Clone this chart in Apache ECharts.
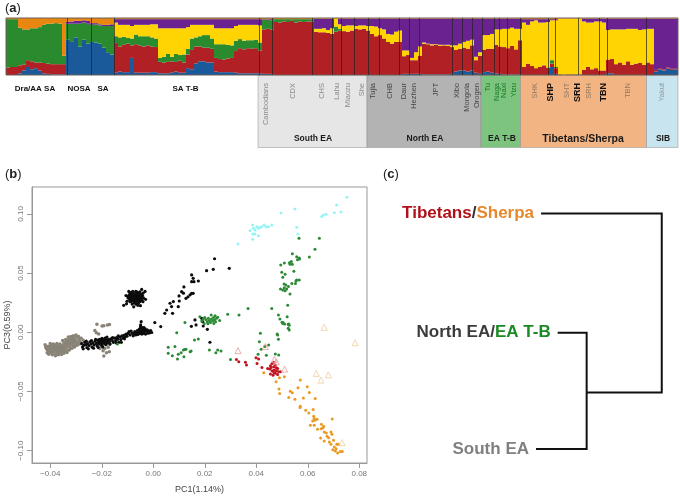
<!DOCTYPE html>
<html>
<head>
<meta charset="utf-8">
<script src="https://cdn.jsdelivr.net/npm/echarts@6/dist/echarts.min.js"></script>
<style>
  html, body { margin: 0; padding: 0; background: #fff; }
  #main { width: 680px; height: 496px; }
</style>
</head>
<body>
<div id="main"></div>
<script>
// (a) ancestry strip, one value per 4px column, percent of height
var blue = [
  0,0,0,3,8,14,10,12,8,3,2,1,1,1,1,62,
  58,66,50,62,55,
  58,57,55,48,40,36,
  4,6,5,5,30,4,4,4,4,5,5, 3,3,3,4,6,4,4, 12,10,20,24,24,22,22, 6,5,5,5,5, 4,3,3,3,3,3,3,
  2,2,2,
  0,0,0,0,0,0,0,0,0,0,
  0,0,0,0,0, 0,0, 0,0,0, 0,0,0,0, 0,0,0, 0,0,0,0,0,
  2,2, 2,2,2,
  1,1,1,1,1,1,1,2,
  6,8,8,6,8,4,2,
  5,6,4,3,2,1,1,1,1,1,
  0,0,0,0,0,0,0, 14,2, 0,0,0,0,0,0,
  0,0,0,0,0,0, 3,3,
  0,0,0,0,0,0,0,0,0,0,
  6,10,8,11,9,10
]
var red = [
  13,14,14,14,10,12,14,10,14,18,18,18,18,18,18,0,
  0,0,0,0,0,
  0,0,0,0,0,0,
  52,44,48,50,22,50,48,46,48,45,44, 20,19,20,20,17,21,18, 24,34,30,26,24,26,24, 24,23,22,24,25, 38,44,42,44,43,44,40,
  78,79,78,
  93,92,94,93,95,92,94,93,94,94,
  76,75,75,74,72, 76,78, 77,76,78, 81,80,81,78, 72,68,70, 64,58,55,58,58,
  31,33, 24,24,32,
  54,53,51,52,50,51,50,47,
  38,38,40,40,44,22,32,
  39,40,42,50,48,48,46,50,44,60,
  14,20,16,12,14,17,13, 6,10, 1,0,1,1,1,1,
  9,14,10,12,8,8, 24,25,
  19,22,18,24,18,20,21,18,22,19,
  3,2,2,2,2,2
]
var green = [
  85,84,84,66,62,54,58,60,62,67,70,71,72,71,15,28,
  32,24,40,30,35,
  30,32,32,38,46,50,
  12,16,14,10,12,17,16,18,16,16,15, 7,10,14,8,14,10,14, 10,20,16,18,22,22,18, 24,26,27,24,22, 18,16,15,14,15,15,14,
  17,16,16,
  5,6,4,5,3,6,4,5,4,4,
  0,0,0,0,0, 9,3, 0,0,0, 0,0,0,0, 0,0,0, 0,0,0,0,0,
  0,0, 0,0,0,
  0,0,0,0,0,0,0,0,
  0,0,0,0,0,0,0,
  0,0,0,0,0,0,0,0,0,0,
  0,0,0,0,0,0,0, 6,2, 0,0,0,0,0,0,
  0,0,0,0,0,0, 0,0,
  0,0,0,0,0,0,0,0,0,0,
  0,0,0,0,0,0
]
var yellow = [
  0,0,0,0,0,0,0,0,0,0,0,0,0,0,0,0,
  0,0,0,0,0,
  0,0,0,0,0,0,
  24,22,21,23,22,17,20,20,20,23,25, 52,50,45,50,45,47,46, 38,24,22,20,18,18,24, 28,28,28,29,30, 26,25,28,27,27,26,30,
  0,0,0,
  0,0,0,0,0,0,0,0,0,0,
  5,6,7,5,10, 14,8, 9,11,9, 5,7,6,8, 14,17,12, 16,14,16,18,20,
  10,8, 4,14,16,
  2,1,2,1,2,1,2,3,
  8,9,10,14,10,6,6,
  26,24,26,27,30,32,34,32,36,20,
  78,68,78,84,78,75,80, 70,82, 98,99,98,98,98,98,
  85,78,82,82,86,84, 52,52,
  61,58,62,57,63,61,58,62,59,62,
  0,0,0,0,0,0
]
var purple = [
  0,0,0,0,0,0,0,0,0,0,0,0,0,0,0,3,
  4,5,5,4,5,
  3,2,2,2,2,3,
  6,10,10,10,12,10,10,10,10,9,9, 16,16,16,16,16,16,16, 14,10,10,10,10,10,10, 16,16,16,16,16, 12,10,10,10,10,10,11,
  1,1,2,
  0,0,0,0,0,0,0,0,0,0,
  18,18,17,20,17, 0,10, 13,12,12, 13,12,12,13, 13,14,17, 19,27,28,23,21,
  56,56, 69,59,49,
  42,44,45,45,46,46,46,47,
  47,44,41,39,37,67,59,
  29,29,27,19,19,18,18,16,18,18,
  6,10,4,2,6,6,5, 2,2, 0,0,0,0,0,0,
  5,7,7,5,5,7, 20,19,
  19,19,19,18,18,18,20,19,18,18,
  90,87,89,86,88,87
]
var orange = [
  2,2,2,17,20,20,18,18,16,12,10,10,9,10,66,7,
  6,5,5,4,5,
  9,9,11,12,12,11,
  2,2,2,2,2,2,2,2,2,2,2, 2,2,2,2,2,2,2, 2,2,2,2,2,2,2, 2,2,2,2,2, 2,2,2,2,2,2,2,
  2,2,2,
  2,2,2,2,2,2,2,2,2,2,
  1,1,1,1,1, 1,1, 1,1,1, 1,1,1,1, 1,1,1, 1,1,1,1,1,
  1,1, 1,1,1,
  1,1,1,1,1,1,1,1,
  1,1,1,1,1,1,1,
  1,1,1,1,1,1,1,1,1,1,
  2,2,2,2,2,2,2, 2,2, 1,1,1,1,1,1,
  1,1,1,1,1,1, 1,1,
  1,1,1,1,1,1,1,1,1,1,
  1,1,1,1,1,1
]

// dark lines between populations, along the strip
var separators = [67.5,91,114.5,259,272.5,312.5,332,341.5,354.7,368,379.7,399.7,409,419,452,462,472,482.7,494.7,499,507.7,520.7,548.7,555,578.7,599.3,607.7,646.7]

var topLabels = ['Dra/AA SA', 'NOSA', 'SA', 'SA T-B']
var topLabelX = [35, 79, 103, 185.5]

var panelNames = ['South EA', 'North EA', 'EA T-B', 'Tibetans/Sherpa', 'SIB']
var panelEdges = [258, 367, 481, 520.5, 646.5, 678]
var panelColors = ['#e6e6e6', '#b3b3b3', '#7dc47f', '#f2b483', '#c8e4ee']
var panelNameX = [313, 425, 502, 583, 663]

var popNames = ['Cambodians','CDX','CHS','Lahu','Miaozu','She','Tujia','CHB','Daur','Hezhen','JPT','Xibo','Mongola','Orogen','Tu','Naga','Naxi','Yizu','SHK','SHP','SHT','SRH','SRH','TBN','TBN','Yakut']
var popX = [266,293,322,337,348,362,373,390,404,414,436,457,467,477,488,497,504,514,535,551,567,578,589,604,628,662]
var popColors = ['#8a8a8a','#8a8a8a','#8a8a8a','#8a8a8a','#8a8a8a','#8a8a8a','#444','#444','#444','#444','#444','#444','#444','#444','#1a7a2a','#1a7a2a','#1a7a2a','#1a7a2a','#94775c','#111','#94775c','#111','#94775c','#111','#94775c','#8f9aa0']
var popBold = ['SHP@19','SRH@21','TBN@23']

// (b) PCA points [PC1, PC3]
var southEA = [
  [-0.0418,-0.0125],[-0.0415,-0.0138],[-0.0412,-0.0150],[-0.0408,-0.0118],[-0.0405,-0.0132],[-0.0403,-0.0160],[-0.0400,-0.0145],[-0.0398,-0.0112],[-0.0396,-0.0175],[-0.0394,-0.0128],
  [-0.0392,-0.0155],[-0.0390,-0.0140],[-0.0388,-0.0120],[-0.0386,-0.0168],[-0.0384,-0.0150],[-0.0382,-0.0132],[-0.0380,-0.0110],[-0.0378,-0.0185],[-0.0376,-0.0160],[-0.0374,-0.0142],
  [-0.0372,-0.0125],[-0.0370,-0.0172],[-0.0368,-0.0150],[-0.0366,-0.0135],[-0.0364,-0.0165],[-0.0362,-0.0118],[-0.0360,-0.0145],[-0.0358,-0.0180],[-0.0356,-0.0155],[-0.0354,-0.0128],
  [-0.0350,-0.0105],[-0.0348,-0.0140],[-0.0346,-0.0085],[-0.0344,-0.0120],[-0.0342,-0.0160],[-0.0340,-0.0095],[-0.0338,-0.0130],[-0.0336,-0.0072],[-0.0334,-0.0110],[-0.0332,-0.0150],
  [-0.0330,-0.0088],[-0.0328,-0.0062],[-0.0326,-0.0120],[-0.0324,-0.0098],[-0.0322,-0.0075],[-0.0320,-0.0135],[-0.0318,-0.0058],[-0.0316,-0.0105],[-0.0314,-0.0085],[-0.0312,-0.0045],
  [-0.0310,-0.0120],[-0.0308,-0.0068],[-0.0306,-0.0095],[-0.0304,-0.0055],[-0.0302,-0.0110],[-0.0300,-0.0078],[-0.0297,-0.0040],[-0.0294,-0.0090],[-0.0290,-0.0062],[-0.0285,-0.0075],
  [-0.0280,-0.0095],[-0.0272,-0.0068],
  [-0.0420,-0.0105],[-0.0412,-0.0172],[-0.0406,-0.0185],[-0.0400,-0.0095],[-0.0392,-0.0190],[-0.0388,-0.0098],[-0.0380,-0.0198],[-0.0374,-0.0095],[-0.0368,-0.0190],[-0.0362,-0.0100],
  [-0.0356,-0.0188],[-0.0352,-0.0112],[-0.0404,-0.0122],[-0.0396,-0.0150],[-0.0386,-0.0145],[-0.0376,-0.0128],[-0.0370,-0.0115],[-0.0364,-0.0148],[-0.0358,-0.0128],[-0.0352,-0.0160],[-0.0347,-0.0178],
  [-0.0352,-0.0070],[-0.0345,-0.0150],[-0.0340,-0.0060],[-0.0335,-0.0170],[-0.0330,-0.0040],[-0.0326,-0.0150],[-0.0320,-0.0035],[-0.0316,-0.0135],[-0.0310,-0.0030],[-0.0306,-0.0125],
  [-0.0300,-0.0023],[-0.0296,-0.0110],[-0.0290,-0.0035],[-0.0286,-0.0100],[-0.0280,-0.0050],[-0.0334,-0.0090],[-0.0326,-0.0075],[-0.0318,-0.0090],[-0.0312,-0.0065],[-0.0304,-0.0080],
  [-0.0219,0.0068],[-0.0199,0.0054],[-0.0192,0.0056],[-0.0178,0.0062],[-0.0170,0.0065],[-0.0227,0.0014],[-0.0221,-0.0003],[-0.0212,-0.0014],
  [-0.0201,-0.0121],[-0.0188,-0.0136],[-0.0175,-0.0127],[-0.0195,-0.0155],[-0.0182,-0.0172],[-0.0192,-0.0200],[-0.0171,-0.0164],[-0.0208,-0.0136],[-0.0169,-0.0099]
]
var northEA = [
  [-0.0067,0.0296],[-0.0060,0.0300],[-0.0074,0.0290],[-0.0070,0.0310],[-0.0062,0.0280],[-0.0080,0.0305],[-0.0055,0.0312],[-0.0085,0.0285],[-0.0050,0.0285],[-0.0078,0.0270],
  [-0.0066,0.0262],[-0.0056,0.0268],[-0.0090,0.0300],[-0.0046,0.0300],[-0.0072,0.0325],[-0.0060,0.0330],[-0.0084,0.0318],[-0.0048,0.0320],[-0.0092,0.0275],[-0.0044,0.0270],
  [-0.0075,0.0250],[-0.0058,0.0245],[-0.0098,0.0290],[-0.0038,0.0290],[-0.0068,0.0345],[-0.0052,0.0342],[-0.0088,0.0335],[-0.0040,0.0330],[-0.0102,0.0262],[-0.0082,0.0238],
  [-0.0060,0.0228],[-0.0050,0.0225],[-0.0030,0.0278],[-0.0106,0.0310],[-0.0032,0.0345],[-0.0045,0.0362],[-0.0095,0.0345],[-0.0072,0.0288],[-0.0065,0.0305],[-0.0058,0.0292],
  [-0.0076,0.0302],[-0.0069,0.0275],[-0.0115,0.0228],[-0.0104,0.0240],[-0.0076,0.0215],
  [-0.0063,0.0290],[-0.0071,0.0300],[-0.0059,0.0310],[-0.0075,0.0312],[-0.0084,0.0295],[-0.0088,0.0310],[-0.0082,0.0275],[-0.0070,0.0262],[-0.0060,0.0255],[-0.0052,0.0258],
  [-0.0050,0.0300],[-0.0054,0.0278],[-0.0044,0.0285],[-0.0042,0.0310],[-0.0066,0.0325],[-0.0078,0.0330],[-0.0056,0.0325],[-0.0092,0.0320],[-0.0086,0.0262],[-0.0076,0.0282],
  [-0.0050,0.0270],[-0.0098,0.0305],[-0.0040,0.0258],[-0.0066,0.0285],[-0.0058,0.0300],[-0.0078,0.0320],[-0.0090,0.0258],[-0.0068,0.0238],[-0.0062,0.0340],[-0.0080,0.0345],
  [-0.0278,-0.0095],[-0.0275,-0.0125],[-0.0270,-0.0110],[-0.0266,-0.0085],[-0.0262,-0.0105],[-0.0258,-0.0130],[-0.0255,-0.0095],[-0.0250,-0.0112],[-0.0246,-0.0080],[-0.0242,-0.0100],
  [-0.0238,-0.0125],[-0.0235,-0.0090],[-0.0230,-0.0108],[-0.0226,-0.0075],[-0.0222,-0.0095],[-0.0218,-0.0115],[-0.0215,-0.0065],[-0.0212,-0.0085],[-0.0210,-0.0100],[-0.0207,-0.0075],
  [-0.0204,-0.0060],[-0.0202,-0.0090],[-0.0200,-0.0110],[-0.0197,-0.0070],[-0.0194,-0.0085],[-0.0191,-0.0060],[-0.0188,-0.0095],[-0.0185,-0.0075],[-0.0182,-0.0065],[-0.0178,-0.0090],
  [-0.0174,-0.0060],[-0.0170,-0.0078],[-0.0165,-0.0055],[-0.0160,-0.0068],[-0.0155,-0.0085],[-0.0150,-0.0050],[-0.0146,-0.0070],[-0.0142,-0.0045],[-0.0138,-0.0058],[-0.0134,-0.0085],
  [-0.0130,-0.0040],[-0.0126,-0.0062],[-0.0122,-0.0030],[-0.0118,-0.0048],[-0.0114,-0.0025],[-0.0110,-0.0040],[-0.0106,-0.0015],[-0.0102,-0.0033],
  [-0.0272,-0.0140],[-0.0260,-0.0075],[-0.0252,-0.0140],[-0.0240,-0.0070],[-0.0232,-0.0135],[-0.0224,-0.0060],[-0.0216,-0.0090],[-0.0214,-0.0128],[-0.0209,-0.0060],[-0.0206,-0.0088],
  [-0.0203,-0.0078],[-0.0199,-0.0052],[-0.0198,-0.0098],[-0.0196,-0.0125],[-0.0192,-0.0075],[-0.0187,-0.0050],[-0.0184,-0.0105],[-0.0180,-0.0040],[-0.0176,-0.0075],[-0.0168,-0.0100],
  [-0.0158,-0.0045],[-0.0144,-0.0090],[-0.0136,-0.0030],[-0.0124,-0.0085],[-0.0112,-0.0055],[-0.0098,-0.0010],[-0.0094,0.0005],[-0.0090,-0.0022],[-0.0086,0.0010],
  [-0.0082,-0.0008],[-0.0078,-0.0030],[-0.0075,-0.0012],[-0.0072,0.0005],[-0.0068,-0.0022],[-0.0065,-0.0005],[-0.0062,0.0015],[-0.0060,-0.0018],[-0.0058,0.0002],[-0.0055,0.0025],
  [-0.0053,-0.0012],[-0.0050,0.0010],[-0.0048,0.0032],[-0.0046,-0.0005],[-0.0044,0.0018],[-0.0042,0.0040],[-0.0040,0.0005],[-0.0038,0.0025],[-0.0036,-0.0010],[-0.0034,0.0012],
  [-0.0032,0.0030],[-0.0030,-0.0015],[-0.0027,0.0008],[-0.0024,0.0020],[-0.0021,-0.0008],[-0.0018,0.0012],[-0.0014,-0.0005],[-0.0010,0.0015],[-0.0006,-0.0002],
  [-0.0056,0.0010],[-0.0052,0.0000],[-0.0048,0.0015],[-0.0045,0.0025],[-0.0042,0.0008],[-0.0039,0.0015],[-0.0036,0.0040],[-0.0050,0.0045],[-0.0044,-0.0015],
  [-0.0047,0.0090],[-0.0049,0.0062],[0.0006,0.0082],[0.0029,0.0048],
  [0.0045,0.0160],[0.0052,0.0188],[0.0065,0.0245],[0.0078,0.0259],[0.0071,0.0217],[0.0075,0.0160],[0.0097,0.0216],[0.0101,0.0264],[0.0100,0.0307],[0.0110,0.0343],
  [0.0119,0.0383],[0.0117,0.0330],[0.0127,0.0287],[0.0135,0.0300],[0.0149,0.0484],[0.0155,0.0456],[0.0149,0.0427],[0.0158,0.0427],[0.0175,0.0433],[0.0207,0.0520],
  [0.0233,0.0532],[0.0238,0.0621],[0.0295,0.0540],[0.0149,0.0329],[0.0143,0.0316],[0.0155,0.0329],
  [0.0166,0.0062],[0.0148,0.0050],[0.0192,0.0090],[0.0194,0.0053],[0.0210,0.0025],[0.0220,-0.0084],[0.0162,0.0104],[0.0188,0.0118]
]
var eaTB = [
  [0.0181,0.0132],[0.0194,0.0113],[0.0188,0.0095],[0.0200,0.0125],[0.0205,0.0105],[0.0210,0.0090],[0.0214,0.0118],[0.0218,0.0100],[0.0222,0.0082],[0.0226,0.0112],
  [0.0230,0.0095],[0.0234,0.0125],[0.0238,0.0105],[0.0242,0.0088],[0.0246,0.0118],[0.0250,0.0128],[0.0212,0.0072],[0.0235,0.0075],[0.0225,0.0145],[0.0240,0.0140],
  [0.0198,0.0075],[0.0258,0.0100],[0.0289,0.0152],[0.0333,0.0146],[0.0368,0.0201],[0.0460,0.0201],[0.0522,0.0228],[0.0486,0.0146],[0.0492,0.0113],[0.0520,0.0132],
  [0.0503,0.0075],[0.0524,0.0068],[0.0528,0.0060],[0.0500,0.0085],[0.0524,0.0033],
  [0.0566,0.0794],[0.0645,0.0794],[0.0628,0.0701],[0.0606,0.0636],[0.0540,0.0664],[0.0557,0.0638],[0.0568,0.0618],[0.0567,0.0628],[0.0560,0.0612],
  [0.0495,0.0569],[0.0509,0.0586],[0.0529,0.0588],[0.0536,0.0597],[0.0540,0.0575],[0.0531,0.0575],[0.0499,0.0507],[0.0512,0.0490],[0.0546,0.0515],[0.0503,0.0464],
  [0.0508,0.0408],[0.0515,0.0400],[0.0494,0.0366],[0.0503,0.0357],[0.0518,0.0366],[0.0509,0.0377],[0.0525,0.0386],[0.0538,0.0413],[0.0554,0.0433],[0.0567,0.0442],
  [0.0552,0.0413],[0.0557,0.0442],[0.0531,0.0324],[0.0512,0.0351],
  [0.0058,-0.0127],[0.0084,-0.0121],[0.0058,-0.0178],[0.0074,-0.0198],[0.0094,-0.0226],[0.0097,-0.0186],[0.0108,-0.0172],[0.0117,-0.0150],[0.0122,-0.0146],[0.0119,-0.0206],
  [0.0127,-0.0144],[0.0091,-0.0003],[0.0123,0.0082],[0.0143,-0.0164],[-0.0139,-0.0099],
  [0.0160,-0.0065],[0.0175,-0.0056],[0.0147,-0.0158],[0.0218,-0.0150],[0.0250,-0.0150],[0.0243,-0.0172],[0.0263,-0.0158],[0.0300,-0.0229],
  [0.0416,-0.0008],[0.0481,-0.0014],[0.0483,-0.0023],[0.0412,-0.0079],[0.0486,-0.0059],[0.0433,-0.0121],[0.0448,-0.0107],[0.0419,-0.0144],[0.0439,-0.0195],[0.0407,-0.0186],
  [0.0474,-0.0184],[0.0487,-0.0192],[0.0504,0.0082],[0.0510,0.0071],[0.0526,0.0071],[0.0528,0.0020]
]
var siberian = [
  [0.0329,0.0746],[0.0376,0.0858],[0.0386,0.0906],[0.0389,0.0878],[0.0395,0.0863],[0.0402,0.0892],[0.0408,0.0878],[0.0414,0.0884],[0.0421,0.0892],[0.0430,0.0906],
  [0.0438,0.0892],[0.0447,0.0892],[0.0460,0.0906],[0.0386,0.0830],[0.0395,0.0830],[0.0409,0.0816],[0.0386,0.0785],[0.0496,0.1008],[0.0550,0.1042],[0.0557,0.0887],
  [0.0561,0.0830],[0.0654,0.0977],[0.0660,0.0990],[0.0671,0.0997],[0.0703,0.1010],[0.0729,0.1016],[0.0712,0.1075],[0.0752,0.1140]
]
var tibetans = [
  [0.0323,-0.0229],[0.0332,-0.0249],[0.0358,-0.0254],[0.0362,-0.0277],[0.0399,-0.0215],[0.0409,-0.0226],[0.0403,-0.0263],[0.0422,-0.0297],
  [0.0461,-0.0263],[0.0468,-0.0254],[0.0455,-0.0282],[0.0444,-0.0305],[0.0452,-0.0311],[0.0458,-0.0297],[0.0468,-0.0291],[0.0474,-0.0277],[0.0461,-0.0325],[0.0470,-0.0319],
  [0.0478,-0.0325],[0.0483,-0.0305],[0.0487,-0.0333],[0.0494,-0.0333],[0.0474,-0.0347],[0.0483,-0.0356],[0.0465,-0.0362],[0.0455,-0.0353],[0.0478,-0.0299],[0.0468,-0.0339]
]
var sherpa = [
  [0.0429,-0.0342],[0.0490,-0.0384],[0.0509,-0.0376],[0.0477,-0.0418],[0.0571,-0.0404],[0.0488,-0.0480],[0.0491,-0.0517],[0.0532,-0.0497],[0.0540,-0.0511],[0.0562,-0.0469],
  [0.0598,-0.0460],[0.0606,-0.0508],[0.0526,-0.0551],[0.0550,-0.0565],[0.0583,-0.0554],[0.0629,-0.0559],[0.0571,-0.0624],[0.0570,-0.0636],[0.0592,-0.0658],[0.0604,-0.0681],
  [0.0621,-0.0653],[0.0623,-0.0709],[0.0625,-0.0729],[0.0636,-0.0734],[0.0619,-0.0749],[0.0628,-0.0743],[0.0610,-0.0785],[0.0625,-0.0785],[0.0695,-0.0732],[0.0638,-0.0819],
  [0.0653,-0.0777],[0.0662,-0.0794],[0.0652,-0.0814],[0.0659,-0.0806],[0.0650,-0.0893],[0.0664,-0.0842],[0.0672,-0.0850],[0.0690,-0.0842],[0.0675,-0.0879],[0.0681,-0.0890],
  [0.0694,-0.0862],[0.0664,-0.0918],[0.0684,-0.0927],[0.0700,-0.0912],[0.0690,-0.0946],[0.0703,-0.0969],[0.0713,-0.0946],[0.0719,-0.0946],[0.0697,-0.0992],[0.0710,-0.0983],
  [0.0716,-0.1020],[0.0726,-0.1006],[0.0734,-0.1006],[0.0707,-0.1003]
]
var tibetanRefs = [[0.0329,-0.0155],[0.0435,-0.0121],[0.0470,-0.0229],[0.0478,-0.0249],[0.0510,-0.0311]]
var sherpaRefs = [[0.0664,0.0042],[0.0784,-0.0088],[0.0633,-0.0347],[0.0680,-0.0359],[0.0651,-0.0404],[0.0733,-0.0932]]

var pc1Ticks = [-0.04, -0.02, 0, 0.02, 0.04, 0.06, 0.08]
var pc3Ticks = [-0.10, -0.05, 0, 0.05, 0.10]

// (c) tree branches [position along, height]
var outerBranch = [[4,99.8],[99.8,99.8],[99.8,23.9],[40.2,23.9]]
var innerBranch = [[17.2,49.3],[40.2,49.3],[40.2,0],[0,0]]

var fontName = 'Liberation Sans'
var myChart = echarts.init(document.getElementById('main'), null, { renderer: 'canvas' })

function stripSeries(name, values, color) {
  return {
    name: name,
    type: 'bar',
    stack: 'strip',
    xAxisIndex: 0,
    yAxisIndex: 0,
    barCategoryGap: 0,
    barGap: 0,
    itemStyle: { color: color },
    silent: true,
    data: values
  }
}

function dotSeries(name, points, color, size) {
  return {
    name: name,
    type: 'scatter',
    xAxisIndex: 2,
    yAxisIndex: 1,
    symbolSize: size,
    itemStyle: { color: color, opacity: 1 },
    data: points
  }
}

function triangleSeries(name, points, color) {
  return {
    name: name,
    type: 'scatter',
    xAxisIndex: 2,
    yAxisIndex: 1,
    symbol: 'triangle',
    symbolSize: 6,
    itemStyle: { color: 'rgba(255,255,255,0)', borderColor: color, borderWidth: 1 },
    data: points
  }
}

function treeSeries(name, points, labelText, rich) {
  var data = points.map(function (p) { return { value: p } })
  data[0].label = { show: true, position: 'left', distance: 7, formatter: labelText, rich: rich }
  return {
    name: name,
    type: 'line',
    xAxisIndex: 3,
    yAxisIndex: 2,
    clip: false,
    symbol: 'circle',
    symbolSize: 0,
    showSymbol: true,
    lineStyle: { color: '#111', width: 2, join: 'miter' },
    itemStyle: { color: '#111' },
    data: data
  }
}

function minusLabel(v) {
  return v.toFixed(2).replace('-', '\u2212')
}

var graphicItems = []

function letterItem(letter, x, y) {
  graphicItems.push({
    type: 'text', x: x, y: y, silent: true,
    style: {
      text: '({b|' + letter + '})',
      font: '13px ' + fontName,
      fill: '#222',
      verticalAlign: 'middle',
      rich: { b: { fontWeight: 'bold', fontSize: 13, fontFamily: fontName, fill: '#222' } }
    }
  })
}
letterItem('a', 5, 8)
letterItem('b', 5, 174)
letterItem('c', 383, 174)

panelNames.forEach(function (name, i) {
  graphicItems.push({
    type: 'rect', silent: true, z: -1,
    shape: { x: panelEdges[i], y: 75, width: panelEdges[i + 1] - panelEdges[i], height: 72.5 },
    style: { fill: panelColors[i], stroke: '#8f8f8f', lineWidth: 0.5 }
  })
  graphicItems.push({
    type: 'text', silent: true, x: panelNameX[i], y: 139,
    style: {
      text: name,
      font: 'bold ' + (name === 'Tibetans/Sherpa' ? '10.5px ' : '8.5px ') + fontName,
      fill: '#1a1a1a', align: 'center', verticalAlign: 'middle'
    }
  })
})

topLabels.forEach(function (name, i) {
  graphicItems.push({
    type: 'text', silent: true, x: topLabelX[i], y: 89,
    style: { text: name, font: 'bold 8px ' + fontName, fill: '#111', align: 'center', verticalAlign: 'middle' }
  })
})

popNames.forEach(function (name, i) {
  var bold = popBold.indexOf(name + '@' + i) >= 0
  graphicItems.push({
    type: 'text', silent: true, x: popX[i], y: 83, rotation: Math.PI / 2,
    style: {
      text: name,
      font: (bold ? 'bold 9px ' : '7.5px ') + fontName,
      fill: popColors[i], align: 'right', verticalAlign: 'middle'
    }
  })
})

var option = {
  animation: false,
  backgroundColor: '#fff',
  textStyle: { fontFamily: fontName },
  graphic: { elements: graphicItems },
  grid: [
    { left: 6, top: 18, width: 672, height: 57, show: true, borderColor: '#6b6158', borderWidth: 1, backgroundColor: 'transparent', z: 3, outerBoundsMode: 'none' },
    { left: 32, top: 187, width: 335, height: 276, show: true, borderColor: '#999', borderWidth: 1, outerBoundsMode: 'none' },
    { left: 536, top: 213, width: 126, height: 236, outerBoundsMode: 'none' }
  ],
  xAxis: [
    { gridIndex: 0, type: 'category', show: false },
    { gridIndex: 0, type: 'value', show: false, min: 6, max: 678 },
    {
      gridIndex: 1, type: 'value', min: -0.0471, max: 0.083,
      name: 'PC1(1.14%)', nameLocation: 'center', nameGap: 22,
      nameTextStyle: { color: '#444', fontSize: 9 },
      splitLine: { show: false },
      axisLine: { onZero: false, lineStyle: { color: '#999' } },
      axisTick: { length: 5, customValues: pc1Ticks, lineStyle: { color: '#999' } },
      axisLabel: { customValues: pc1Ticks, color: '#777', fontSize: 8, margin: 7, formatter: minusLabel }
    },
    { gridIndex: 2, type: 'value', show: false, min: 0, max: 100 }
  ],
  yAxis: [
    { gridIndex: 0, type: 'value', show: false, min: 0, max: 100 },
    {
      gridIndex: 1, type: 'value', min: -0.1104, max: 0.1227,
      name: 'PC3(0.59%)', nameLocation: 'center', nameGap: 20, nameRotate: 90,
      nameTextStyle: { color: '#444', fontSize: 9 },
      splitLine: { show: false },
      axisLine: { onZero: false, lineStyle: { color: '#999' } },
      axisTick: { length: 5, customValues: pc3Ticks, lineStyle: { color: '#999' } },
      axisLabel: { customValues: pc3Ticks, color: '#777', fontSize: 8, margin: 7, rotate: 90, formatter: minusLabel }
    },
    { gridIndex: 2, type: 'value', show: false, min: 0, max: 100 }
  ],
  series: [
    stripSeries('blue', blue, '#1a5a9a'),
    stripSeries('red', red, '#b02024'),
    stripSeries('green', green, '#2a8a2e'),
    stripSeries('yellow', yellow, '#ffd400'),
    stripSeries('purple', purple, '#6a2290'),
    stripSeries('orange', orange, '#e8860f'),
    {
      name: 'separators',
      type: 'scatter',
      xAxisIndex: 1,
      yAxisIndex: 0,
      symbolSize: 0,
      z: 4,
      data: separators.map(function (x) { return [x, 0] }),
      markLine: {
        silent: true,
        animation: false,
        symbol: 'none',
        label: { show: false },
        lineStyle: { color: '#222', width: 1, type: 'solid', opacity: 0.7 },
        data: separators.map(function (x) { return { xAxis: x } })
      }
    },
    dotSeries('South EA', southEA, '#8a8478', 3.5),
    dotSeries('North EA', northEA, '#0c0c0c', 3.2),
    dotSeries('EA T-B', eaTB, '#2c8a35', 3),
    dotSeries('SIB', siberian, '#96f5f2', 3),
    dotSeries('Tibetans', tibetans, '#c21220', 3),
    dotSeries('Sherpa', sherpa, '#ea9a24', 3),
    triangleSeries('Tibetan reference', tibetanRefs, '#e79a9a'),
    triangleSeries('Sherpa reference', sherpaRefs, '#efcd9c'),
    treeSeries('Tibetans/Sherpa', outerBranch, '{a|Tibetans}{k|/}{b|Sherpa}', {
      a: { color: '#b01018', fontSize: 17, fontWeight: 'bold', fontFamily: fontName },
      k: { color: '#333', fontSize: 17, fontWeight: 'bold', fontFamily: fontName },
      b: { color: '#e6892c', fontSize: 17, fontWeight: 'bold', fontFamily: fontName }
    }),
    treeSeries('North EA/EA T-B', innerBranch, '{a|North EA/}{b|EA T-B}', {
      a: { color: '#3c3c3c', fontSize: 17, fontWeight: 'bold', fontFamily: fontName },
      b: { color: '#1a8a24', fontSize: 17, fontWeight: 'bold', fontFamily: fontName }
    }),
    {
      name: 'South EA leaf',
      type: 'line',
      xAxisIndex: 3,
      yAxisIndex: 2,
      clip: false,
      symbol: 'circle',
      symbolSize: 0,
      lineStyle: { width: 0 },
      label: { show: true, position: 'left', distance: 7, formatter: 'South EA', color: '#808080', fontSize: 17, fontWeight: 'bold', fontFamily: fontName },
      data: [[0, 0]]
    }
  ]
}
myChart.setOption(option)
</script>
</body>
</html>
